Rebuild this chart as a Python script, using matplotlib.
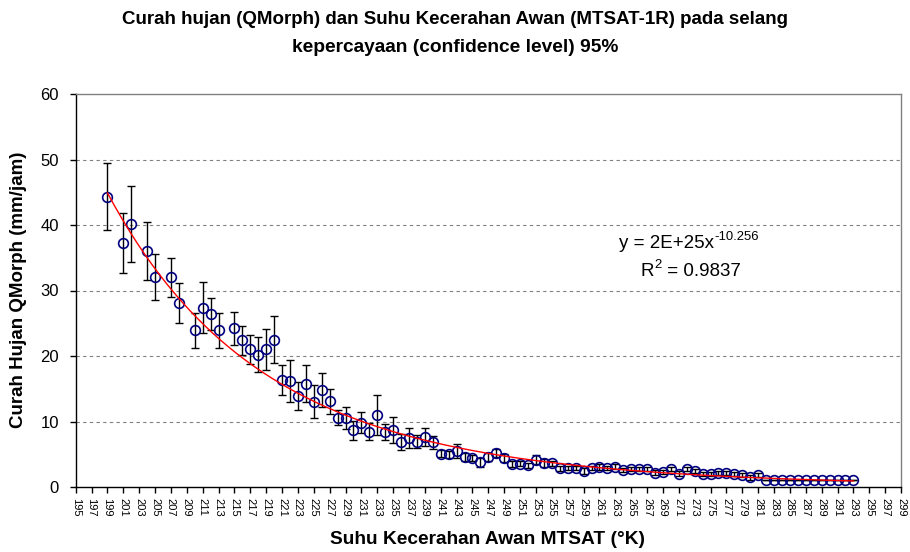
import numpy as np
import matplotlib
matplotlib.use("Agg")
import matplotlib.pyplot as plt
from matplotlib.transforms import offset_copy

plt.rcParams['font.family'] = ['Liberation Sans', 'DejaVu Sans']

# ---- data ----
suhu = [199, 201, 202, 204, 205, 207, 208, 210, 211, 212, 213,
        215, 216, 217, 218, 219, 220, 221, 222, 223, 224, 225, 226, 227, 228,
        229, 230, 231, 232, 233, 234, 235, 236, 237, 238, 239, 240,
        241, 242, 243, 244, 245, 246, 247, 248, 249, 250,
        251, 252, 253, 254, 255, 256, 257, 258, 259, 260,
        261, 262, 263, 264, 265, 266, 267, 268, 269, 270,
        271, 272, 273, 274, 275, 276, 277, 278, 279, 280, 281,
        282, 283, 284, 285, 286, 287, 288, 289, 290, 291, 292, 293]

curah = [44.3, 37.2, 40.2, 36.0, 32.0, 32.0, 28.1, 23.9, 27.4, 26.4, 23.9,
         24.2, 22.4, 21.0, 20.2, 21.0, 22.5, 16.4, 16.2, 13.9, 15.8, 13.0, 14.8, 13.1, 10.6,
         10.5, 8.65, 9.8, 8.45, 11.0, 8.45, 8.65, 6.9, 7.5, 6.9, 7.6, 6.8,
         5.1, 5.0, 5.5, 4.6, 4.4, 3.8, 4.6, 5.2, 4.45, 3.5,
         3.55, 3.3, 4.15, 3.65, 3.6, 2.85, 2.85, 2.85, 2.45, 2.85,
         3.05, 2.85, 3.1, 2.6, 2.7, 2.8, 2.8, 2.2, 2.35, 2.7,
         2.05, 2.7, 2.45, 1.95, 2.05, 2.1, 2.1, 1.95, 1.8, 1.5, 1.8,
         1.05, 1.05, 1.05, 1.05, 1.05, 1.05, 1.05, 1.05, 1.05, 1.05, 1.05, 1.05]

galat = [5.1, 4.6, 5.8, 4.45, 3.5, 3.0, 3.1, 2.7, 3.9, 2.45, 2.7,
         2.55, 2.25, 2.25, 2.7, 3.15, 3.6, 2.3, 3.15, 2.15, 2.8, 2.5, 2.55, 1.9, 1.2,
         1.7, 1.5, 1.6, 1.25, 3.1, 1.2, 2.0, 1.2, 1.5, 1.0, 1.4, 1.0,
         0.5, 0.5, 1.1, 0.6, 0.5, 0.7, 0.6, 0.6, 0.6, 0.4,
         0.4, 0.4, 0.7, 0.6, 0.4, 0.4, 0.3, 0.3, 0.4, 0.3,
         0.4, 0.3, 0.4, 0.3, 0.3, 0.3, 0.3, 0.4, 0.3, 0.3,
         0.4, 0.3, 0.3, 0.3, 0.3, 0.3, 0.3, 0.3, 0.3, 0.4, 0.3,
         0, 0, 0, 0, 0, 0, 0, 0, 0, 0, 0, 0]

x_ticks = list(range(195, 300, 2))
y_ticks = [0, 10, 20, 30, 40, 50, 60]

title_line1 = "Curah hujan (QMorph) dan Suhu Kecerahan Awan (MTSAT-1R) pada selang"
title_line2 = "kepercayaan (confidence level) 95%"
xlabel_text = "Suhu Kecerahan Awan MTSAT (°K)"
ylabel_text = "Curah Hujan QMorph (mm/jam)"
eq_main, eq_sup = "y = 2E+25x", "-10.256"
r2_main, r2_sup, r2_rest = "R", "2", " = 0.9837"

W, H = 910, 552

# ---- figure ----
fig = plt.figure(figsize=(W / 100, H / 100), dpi=100)
ax = fig.add_axes([75.7 / W, 1 - 487 / H, (901 - 75.7) / W, (487 - 94) / H])

xs = np.array(suhu, dtype=float)
ys = np.array(curah, dtype=float)

# power trendline (least squares in log-log space, as Excel does)
b, lna = np.polyfit(np.log(xs), np.log(ys), 1)
xt = np.linspace(xs.min(), xs.max(), 200)
yt = np.exp(lna) * xt ** b

ax.errorbar(xs, ys, yerr=galat, fmt='none', ecolor='black', elinewidth=1.0,
            capsize=3.2, capthick=1.0, zorder=3)
ax.plot(xs, ys, linestyle='none', marker='o', markersize=7,
        markerfacecolor='none', markeredgecolor='#000080', markeredgewidth=1.2, zorder=4)
ax.plot(xt, yt, color='red', linewidth=1.0, zorder=5)

ax.set_xlim(195, 299)
ax.set_ylim(0, 60)
ax.set_xticks(x_ticks)
ax.set_xticklabels([str(t) for t in x_ticks], rotation=-90, fontsize=8)
ax.set_yticks(y_ticks)
ax.set_yticklabels([str(t) for t in y_ticks], fontsize=12)
ax.tick_params(axis='both', direction='out', length=4, width=1, color='black')
ax.tick_params(axis='x', pad=4)
ax.tick_params(axis='y', pad=8)

for yv in y_ticks[1:-1]:
    ax.axhline(yv, color='#808080', linestyle=(0, (3, 3)), linewidth=0.8, zorder=1)

ax.spines['left'].set_color('black')
ax.spines['bottom'].set_color('black')
ax.spines['top'].set_color('#808080')
ax.spines['right'].set_color('#808080')
for s in ax.spines.values():
    s.set_linewidth(1.0)

fig.text(488 / W, 1 - 540 / H, xlabel_text, fontsize=13.8, fontweight='bold',
         ha='center', va='center')
fig.text(19 / W, 1 - 290 / H, ylabel_text, fontsize=13.5, fontweight='bold',
         ha='center', va='center', rotation=90)

fig.text(0.5, 1 - 20 / H, title_line1, ha='center', va='center',
         fontsize=13.5, fontweight='bold')
fig.text(0.5, 1 - 47 / H, title_line2, ha='center', va='center',
         fontsize=13.8, fontweight='bold')


def sup_text(x0, y0, parts, size):
    """Write text pieces one after another, superscripts raised."""
    renderer = fig.canvas.get_renderer()
    x = x0
    for txt, sup in parts:
        fs = size * 0.7 if sup else size
        dy = size * 0.45 if sup else 0
        t = fig.text(x, y0, txt, fontsize=fs, ha='left', va='baseline',
                     transform=offset_copy(fig.transFigure, fig=fig, x=0, y=dy, units='points'))
        bb = t.get_window_extent(renderer)
        x = x + bb.width / W


sup_text(619 / W, 1 - 248 / H, [(eq_main, False), (eq_sup, True)], 13.5)
sup_text(641 / W, 1 - 276 / H, [(r2_main, False), (r2_sup, True), (r2_rest, False)], 13.5)

fig.savefig("out.png", dpi=100)
